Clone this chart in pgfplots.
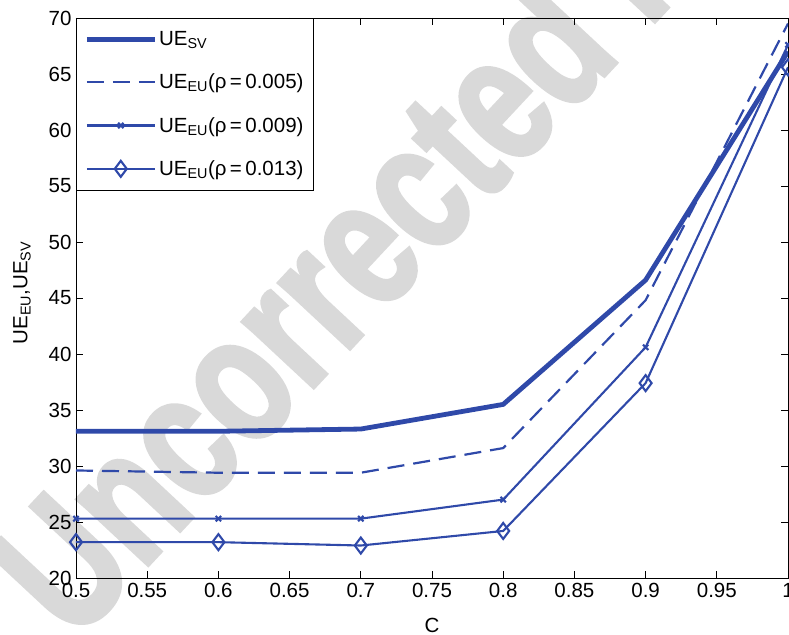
\documentclass[border=0pt]{standalone}
\usepackage{pgfplots}
\pgfplotsset{compat=1.18}
\usepackage{fontspec}
\usepackage{graphicx}
\setmainfont{Liberation Sans}
\newfontfamily\wmfont[FakeBold=2.5]{Liberation Sans Bold}
\definecolor{lb}{RGB}{47,73,169}
\definecolor{wm}{RGB}{217,217,217}
\begin{document}
\begin{tikzpicture}
\useasboundingbox (-76bp,-57bp) rectangle (713bp,578bp);
\node[rotate=47, anchor=base west, text=wm, font=\fontsize{182bp}{182bp}\wmfont, inner sep=0pt] at (-2bp,-66bp) {\scalebox{0.75}[1]{Uncorrected Proof}};
\begin{axis}[
  at={(0bp,0bp)}, anchor=south west,
  scale only axis, width=712bp, height=560bp,
  xmin=0.5, xmax=1, ymin=20, ymax=70,
  xtick={0.5,0.55,...,1.01}, ytick={20,25,...,70},
  xticklabels={0.5,0.55,0.6,0.65,0.7,0.75,0.8,0.85,0.9,0.95,1},
  tick align=inside, major tick length=7bp,
  tick style={black, line width=0.8bp},
  axis line style={black, line width=0.8bp},
  font=\fontsize{20.5bp}{24bp}\selectfont,
  /pgf/number format/assume math mode=true,
  xticklabel style={yshift=-2bp},
  yticklabel style={xshift=-1bp},
  xlabel={C}, ylabel={UE\textsubscript{EU},UE\textsubscript{SV}},
  every axis x label/.style={at={(356bp,-47bp)}, anchor=center},
  every axis y label/.style={at={(-54bp,285bp)}, rotate=90, anchor=center},
  legend style={at={(0,1)}, anchor=north west, draw=black, line width=0.8bp,
    inner xsep=8bp, inner ysep=11bp, row sep=23bp, fill=white,
    cells={anchor=west}, font=\fontsize{20.5bp}{24bp}\selectfont},
  legend image code/.code={\draw[mark repeat=2,mark phase=2,#1] plot coordinates {(0bp,0bp) (34bp,0bp) (68bp,0bp)};},
  legend cell align=left,
]
\addplot[lb, line width=4.8bp, mark=none] coordinates {
(0.5,33.1) (0.6,33.1) (0.7,33.3) (0.8,35.5) (0.9,46.6) (1.0,67.0)};
\addlegendentry{UE\textsubscript{SV}}
\addplot[lb, line width=2.2bp, dash pattern=on 17bp off 9bp, mark=none] coordinates {
(0.5,29.6) (0.6,29.4) (0.7,29.4) (0.8,31.6) (0.9,44.8) (1.0,69.5)};
\addlegendentry{UE\textsubscript{EU}(ρ\,=\,0.005)}
\addplot[lb, line width=2.1bp, mark=x, mark size=3.8bp, mark options={line width=2.1bp}] coordinates {
(0.5,25.3) (0.6,25.3) (0.7,25.3) (0.8,27.0) (0.9,40.6) (1.0,67.6)};
\addlegendentry{UE\textsubscript{EU}(ρ\,=\,0.009)}
\addplot[lb, line width=2.1bp, mark=diamond, mark size=8bp, mark options={line width=2.1bp, fill=none}] coordinates {
(0.5,23.2) (0.6,23.2) (0.7,22.9) (0.8,24.2) (0.9,37.4) (1.0,65.6)};
\addlegendentry{UE\textsubscript{EU}(ρ\,=\,0.013)}
\end{axis}
\end{tikzpicture}
\end{document}
